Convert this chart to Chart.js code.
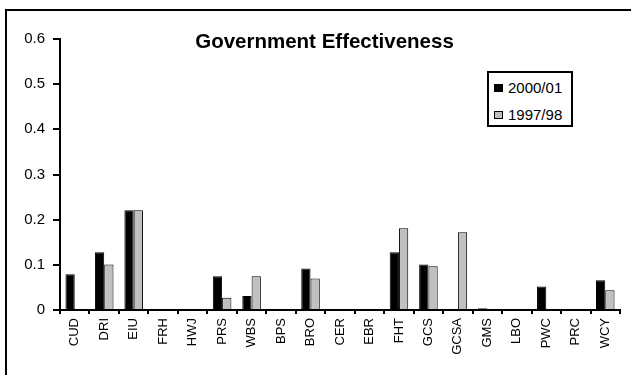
<!DOCTYPE html>
<html>
<head>
<meta charset="utf-8">
<title>Government Effectiveness</title>
<script src="https://cdn.jsdelivr.net/npm/chart.js@4.4.0/dist/chart.umd.min.js"></script>
<style>
  html, body { margin: 0; padding: 0; background: #fff; overflow: hidden; }
  body { width: 631px; height: 375px; position: relative; font-family: "Liberation Sans", Arial, sans-serif; color: #000; }
  #frame { position: absolute; left: 5px; top: 9px; width: 640px; height: 400px; border: 2px solid #000; }
  #chart-box { position: absolute; left: 0; top: 0; width: 631px; height: 375px; }
  #title { position: absolute; left: 0; top: 31px; width: 649px; text-align: center;
           font-weight: bold; font-size: 20.5px; line-height: 20px; }
  #legend { position: absolute; left: 487px; top: 71px; width: 86px; height: 56px;
            box-sizing: border-box; border: 2px solid #000; background: #fff; padding-top: 1px; }
  .legend-row { height: 27px; font-size: 15px; white-space: nowrap; display: flex; align-items: center; }
  .legend-key { width: 9px; height: 8px; box-sizing: border-box; border: 1px solid #000; margin: 0 5px 0 5px; }
</style>
</head>
<body>
<div id="frame"></div>
<div id="chart-box"><canvas id="effChart" width="631" height="375"></canvas></div>
<div id="title">Government Effectiveness</div>
<div id="legend"></div>
<script>
// 指标来源
const categories = ['CUD', 'DRI', 'EIU', 'FRH', 'HWJ', 'PRS', 'WBS', 'BPS', 'BRO', 'CER',
                    'EBR', 'FHT', 'GCS', 'GCSA', 'GMS', 'LBO', 'PWC', 'PRC', 'WCY'];
// 两期数值
const values2000 = [0.079, 0.128, 0.221, 0, 0, 0.075, 0.031, 0, 0.092, 0,
                    0, 0.128, 0.101, 0, 0.004, 0, 0.052, 0, 0.066];
const values1997 = [0, 0.101, 0.221, 0, 0, 0.027, 0.075, 0, 0.070, 0,
                    0, 0.181, 0.097, 0.172, 0, 0, 0, 0, 0.044];
const seriesNames = ['2000/01', '1997/98'];
const seriesColors = ['#000000', '#c0c0c0'];
// 纵轴刻度
const yMin = 0;
const yMax = 0.6;
const yStep = 0.1;

Chart.defaults.font.family = '"Liberation Sans", Arial, sans-serif';
Chart.defaults.color = '#000';

const chart = new Chart(document.getElementById('effChart'), {
  type: 'bar',
  data: {
    labels: categories,
    datasets: [values2000, values1997].map((vals, i) => ({
      label: seriesNames[i],
      data: vals,
      backgroundColor: seriesColors[i],
      borderColor: '#000',
      borderWidth: 1,
      categoryPercentage: 0.63,
      barPercentage: 1
    }))
  },
  options: {
    responsive: false,
    animation: false,
    devicePixelRatio: 1,
    layout: { padding: { top: 39, right: 11, bottom: 0, left: 0 } },
    plugins: {
      legend: { display: false },
      tooltip: { enabled: false }
    },
    scales: {
      x: {
        ticks: { color: '#000', font: { size: 13 }, minRotation: 90, maxRotation: 90, padding: 4, autoSkip: false },
        grid: { drawOnChartArea: false, drawTicks: true, tickLength: 4, color: '#000', lineWidth: 2, offset: true },
        border: { color: '#000', width: 2 },
        afterFit(scale) { scale.height = 65; }
      },
      y: {
        min: yMin,
        max: yMax,
        ticks: {
          stepSize: yStep,
          color: '#000',
          font: { size: 15 },
          padding: 8,
          callback: v => (v === 0 ? '0' : v.toFixed(1))
        },
        grid: { drawOnChartArea: false, drawTicks: true, tickLength: 7, color: '#000', lineWidth: 2 },
        border: { color: '#000', width: 2 },
        afterFit(scale) { scale.width = 60; }
      }
    }
  }
});

// 图例
const legendEl = document.getElementById('legend');
legendEl.innerHTML = chart.data.datasets.map(ds => `
  <div class="legend-row">
    <span class="legend-key" style="background:${ds.backgroundColor}"></span>${ds.label}
  </div>`).join('');
</script>
</body>
</html>
